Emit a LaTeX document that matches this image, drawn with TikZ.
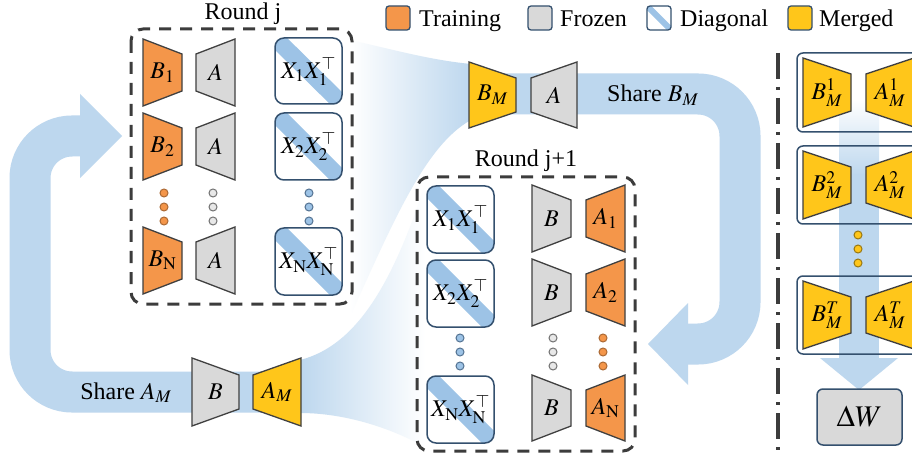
\documentclass[tikz,border=0pt]{standalone}
\usepackage{mathptmx}
\usepackage{fontspec}
\setmainfont{Liberation Serif}
\newfontfamily\tnr{Liberation Serif}
\definecolor{cband}{HTML}{BDD7EE}
\definecolor{corange}{HTML}{F4964A}
\definecolor{cgray}{HTML}{D9D9D9}
\definecolor{cyel}{HTML}{FFC61A}
\definecolor{cdiag}{HTML}{9DC3E6}
\definecolor{cedge}{HTML}{34506E}
\definecolor{ctrap}{HTML}{404040}
\definecolor{cdash}{HTML}{3C3C3C}
\tikzset{
  trapline/.style={draw=ctrap, line width=1.3pt, line join=miter},
  lbl/.style={font=\tnr\fontsize{24}{28}\selectfont, inner sep=0pt},
  txt/.style={font=\tnr\fontsize{24}{28}\selectfont, inner sep=0pt},
  xedge/.style={draw=cedge, line width=1.5pt, rounded corners=9pt},
  roundbox/.style={draw=cdash, line width=3pt, dash pattern=on 12pt off 9pt, rounded corners=12pt},
  dotnode/.style={circle, inner sep=0pt, minimum size=8pt, line width=1pt},
  bandline/.style={draw=cband, line width=41pt, rounded corners=42pt},
  legsq/.style={draw=cedge, line width=1.3pt, rounded corners=3pt, minimum size=24pt, inner sep=0pt},
  pbox/.style={draw=cedge, line width=1.5pt, rounded corners=6pt},
}
% wide-left trapezoid: name, x0, y0, x1, y1, inset, fill, label
\newcommand{\trapWL}[8]{%
  \draw[trapline,fill=#7] (#2,#3) -- (#4,{#3+#6}) -- (#4,{#5-#6}) -- (#2,#5) -- cycle;
  \node[lbl] (#1) at ({(#2+#4)/2},{(#3+#5)/2}) {#8};}
% wide-right trapezoid
\newcommand{\trapWR}[8]{%
  \draw[trapline,fill=#7] (#2,{#3+#6}) -- (#4,#3) -- (#4,#5) -- (#2,{#5-#6}) -- cycle;
  \node[lbl] (#1) at ({(#2+#4)/2},{(#3+#5)/2}) {#8};}
% diagonal box: name, x0, y0, x1, y1, label
\newcommand{\xbox}[6]{%
  \begin{scope}
    \clip[rounded corners=9pt] (#2,#3) rectangle (#4,#5);
    \fill[white] (#2,#3) rectangle (#4,#5);
    \draw[cdiag, line width=17pt] (#2,#3) -- (#4,#5);
  \end{scope}
  \draw[xedge] (#2,#3) rectangle (#4,#5);
  \node[lbl] (#1) at ({(#2+#4)/2},{(#3+#5)/2}) {#6};}
% three dots: prefix, x, y0, fill, draw
\newcommand{\threedots}[5]{%
  \node[dotnode, fill=#4, draw=#5] (#1a) at (#2,#3) {};
  \node[dotnode, fill=#4, draw=#5] (#1b) at (#2,{#3+14}) {};
  \node[dotnode, fill=#4, draw=#5] (#1c) at (#2,{#3+28}) {};}
\begin{document}
\begin{tikzpicture}[x=1pt,y=-1pt]
\clip (0,0) rectangle (912,454);
\fill[white] (0,0) rectangle (912,454);

% funnel shapes
\shade[left color=white, right color=cband] (350,40) .. controls (395,50) and (430,60) .. (471,64)
  -- (471,120) .. controls (425,145) and (392,225) .. (352,312) -- cycle;
\shade[left color=cband, right color=white] (300,360) .. controls (360,345) and (395,275) .. (425,185)
  -- (425,447) .. controls (385,425) and (340,413) .. (300,413) -- cycle;

% share bands
\coordinate (la) at (301,392);
\coordinate (lb) at (30,392);
\coordinate (lc) at (30,136);
\coordinate (ld) at (82,136);
\draw[bandline] (la) -- (lb) -- (lc) -- (ld);
\fill[cband] (80,94) -- (122,136) -- (80,178) -- cycle;

\coordinate (ra) at (468,94);
\coordinate (rb) at (740,94);
\coordinate (rc) at (740,344);
\coordinate (rd) at (686,344);
\draw[bandline] (ra) -- (rb) -- (rc) -- (rd);
\fill[cband] (688,303) -- (648,344) -- (688,385) -- cycle;

% right panel band
\shade[top color=white, bottom color=cband] (839,100) rectangle (879,175);
\fill[cband] (839,174) rectangle (879,358);
\fill[cband] (820,358) -- (898,358) -- (859,390) -- cycle;

% Round j
\draw[roundbox] (131,29) rectangle (352,304);
\node[txt, anchor=base] (rj) at (243,20) {Round j};
\trapWL{b1}{143}{39}{182}{106}{15}{corange}{$B_1$}
\trapWR{a1}{196}{39}{235}{106}{15}{cgray}{$A$}
\xbox{x1}{275}{38}{342}{104}{$X_1X_1^{\top}$}
\trapWL{b2}{143}{113}{182}{180}{15}{corange}{$B_2$}
\trapWR{a2}{196}{113}{235}{180}{15}{cgray}{$A$}
\xbox{x2}{275}{113}{342}{180}{$X_2X_2^{\top}$}
\threedots{dob}{164}{193}{corange}{corange!70!black}
\threedots{doa}{213}{193}{cgray!60!white}{black!55}
\threedots{dox}{309}{193}{cdiag}{cedge!70!cdiag}
\trapWL{bn}{143}{227}{182}{294}{15}{corange}{$B_{\mathrm{N}}$}
\trapWR{an}{196}{227}{235}{294}{15}{cgray}{$A$}
\xbox{xn}{275}{228}{342}{295}{$X_{\mathrm{N}}X_{\mathrm{N}}^{\top}$}

% top merged pair
\trapWL{bm}{469}{62}{516}{128}{16}{cyel}{$B_M$}
\trapWR{am}{531}{62}{577}{128}{16}{cgray}{$A$}
\node[txt, anchor=base west] (sb) at (607,102) {Share $B_M$};

% Round j+1
\draw[roundbox] (417,177) rectangle (635,451);
\node[txt, anchor=base] (rj1) at (526,167) {Round j+1};
\xbox{y1}{427}{186}{494}{253}{$X_1X_1^{\top}$}
\trapWL{c1}{532}{185}{571}{252}{15}{cgray}{$B$}
\trapWR{d1}{586}{185}{625}{252}{15}{corange}{$A_1$}
\xbox{y2}{427}{260}{494}{327}{$X_2X_2^{\top}$}
\trapWL{c2}{532}{259}{571}{326}{15}{cgray}{$B$}
\trapWR{d2}{586}{259}{625}{326}{15}{corange}{$A_2$}
\threedots{eoy}{460}{338}{cdiag}{cedge!70!cdiag}
\threedots{eoc}{553}{338}{cgray!60!white}{black!55}
\threedots{eod}{603}{338}{corange}{corange!70!black}
\xbox{yn}{427}{376}{494}{443}{$X_{\mathrm{N}}X_{\mathrm{N}}^{\top}$}
\trapWL{cn}{532}{375}{571}{441}{15}{cgray}{$B$}
\trapWR{dn}{586}{375}{625}{441}{15}{corange}{$A_{\mathrm{N}}$}

% bottom merged pair
\trapWL{bb}{192}{358}{239}{426}{17}{cgray}{$B$}
\trapWR{ab}{253}{358}{301}{426}{17}{cyel}{$A_M$}
\node[txt, anchor=base] (sa) at (126,399) {Share $A_M$};

% legend
\node[legsq, fill=corange] (lg1) at (398,18) {};
\node[txt, anchor=base west] (lt1) at (419,27) {Training};
\node[legsq, fill=cgray] (lg2) at (540,18) {};
\node[txt, anchor=base west] (lt2) at (560,27) {Frozen};
\begin{scope}
  \clip[rounded corners=3pt] (647,6) rectangle (671,30);
  \draw[cdiag, line width=6pt] (647,6) -- (671,30);
\end{scope}
\node[legsq] (lg3) at (659,18) {};
\node[txt, anchor=base west] (lt3) at (680,27) {Diagonal};
\node[legsq, fill=cyel] (lg4) at (800,18) {};
\node[txt, anchor=base west] (lt4) at (819,27) {Merged};

% right panel
\draw[cdash, line width=3.5pt, dash pattern=on 26pt off 8pt on 3pt off 8pt] (778,53) -- (778,458);
\draw[pbox] (797,53) rectangle (940,132);
\trapWL{p1}{803}{58}{851}{127}{16}{cyel}{$B_M^1$}
\trapWR{q1}{866}{58}{914}{127}{16}{cyel}{$A_M^1$}
\draw[pbox] (797,146) rectangle (940,224);
\trapWL{p2}{803}{151}{851}{219}{16}{cyel}{$B_M^2$}
\trapWR{q2}{866}{151}{914}{219}{16}{cyel}{$A_M^2$}
\threedots{fo}{858}{235}{cyel}{cyel!60!black}
\draw[pbox] (797,276) rectangle (940,354);
\trapWL{pt}{803}{281}{851}{349}{16}{cyel}{$B_M^T$}
\trapWR{qt}{866}{281}{914}{349}{16}{cyel}{$A_M^T$}
\node[draw=cedge, line width=1.5pt, fill=cgray, rounded corners=6pt, minimum width=85pt, minimum height=56pt, inner sep=0pt, font=\fontsize{30}{34}\selectfont] (dw) at (859.5,417) {$\Delta W$};
\end{tikzpicture}
\end{document}
